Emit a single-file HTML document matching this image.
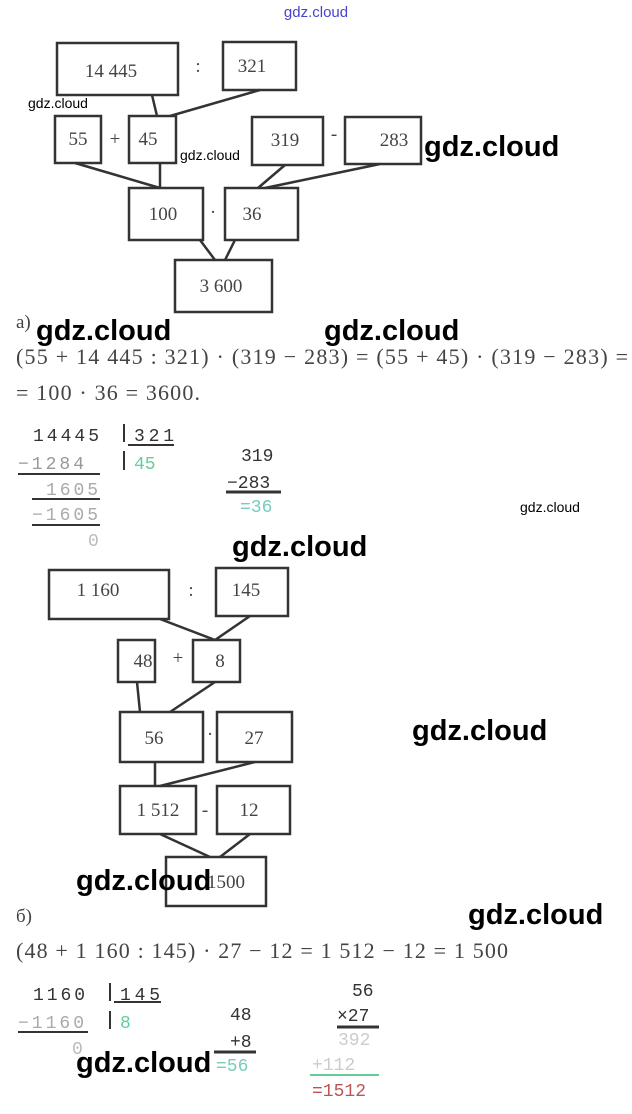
<!DOCTYPE html>
<html><head><meta charset="utf-8"><style>
body{margin:0;background:#fff;width:632px;height:1114px;overflow:hidden;position:relative}
svg{position:absolute;left:0;top:0}
.t{font-family:"Liberation Serif",serif;font-size:19px;fill:#444}
.e{font-family:"Liberation Serif",serif;font-size:22px;fill:#444}
.m{font-family:"Liberation Mono",monospace;font-size:18px}
.w{font-family:"Liberation Sans",sans-serif;font-weight:bold;font-size:29px;fill:#000}
.ws{font-family:"Liberation Sans",sans-serif;font-size:14px;fill:#000}
</style></head><body>
<svg width="632" height="1114" viewBox="0 0 632 1114">
<g stroke="#333" stroke-width="2.5" fill="none">
<rect x="57" y="43" width="121" height="52"/><rect x="223" y="42" width="73" height="48"/>
<rect x="55" y="116" width="46" height="47"/><rect x="129" y="116" width="47" height="47"/>
<rect x="252" y="117" width="71" height="48"/><rect x="345" y="117" width="76" height="47"/>
<rect x="129" y="188" width="74" height="52"/><rect x="225" y="188" width="73" height="52"/>
<rect x="175" y="260" width="97" height="52"/>
<path d="M152 95L157 116M260 90L170 116M75 163L160 188M160 163L160 188M285 165L258 188M380 164L265 188M200 240L215 260M235 240L225 260"/>
<rect x="49" y="570" width="120" height="49"/><rect x="216" y="568" width="72" height="48"/>
<rect x="118" y="640" width="37" height="42"/><rect x="193" y="640" width="47" height="42"/>
<rect x="120" y="712" width="83" height="50"/><rect x="217" y="712" width="75" height="50"/>
<rect x="120" y="786" width="76" height="48"/><rect x="217" y="786" width="73" height="48"/>
<rect x="166" y="857" width="100" height="49"/>
<path d="M160 619L215 640M250 616L215 640M137 682L140 712M215 682L170 712M155 762L155 786M255 762L160 786M160 834L210 857M250 834L220 857"/>
</g>
<g class="t" text-anchor="middle">
<text x="111" y="77">14 445</text><text x="198" y="72">:</text><text x="252" y="72">321</text>
<text x="78" y="145">55</text><text x="115" y="145">+</text><text x="148" y="145">45</text>
<text x="285" y="146">319</text><text x="334" y="140">-</text><text x="394" y="146">283</text>
<text x="163" y="220">100</text><text x="213" y="218">·</text><text x="252" y="220">36</text>
<text x="221" y="292">3 600</text>
<text x="98" y="596">1 160</text><text x="191" y="596">:</text><text x="246" y="596">145</text>
<text x="143" y="667">48</text><text x="178" y="664">+</text><text x="220" y="667">8</text>
<text x="154" y="744">56</text><text x="210" y="740">·</text><text x="254" y="744">27</text>
<text x="158" y="816">1 512</text><text x="205" y="816">-</text><text x="249" y="816">12</text>
<text x="226" y="888">1500</text>
</g>
<text class="t" x="16" y="328">а)</text>
<text class="e" x="16" y="364" textLength="612" lengthAdjust="spacing">(55 + 14 445 : 321) · (319 − 283) = (55 + 45) · (319 − 283) =</text>
<text class="e" x="16" y="400" textLength="184" lengthAdjust="spacing">= 100 · 36 = 3600.</text>
<text class="t" x="16" y="922">б)</text>
<text class="e" x="16" y="958" textLength="492" lengthAdjust="spacing">(48 + 1 160 : 145) · 27 − 12 = 1 512 − 12 = 1 500</text>
<g class="m">
<text x="33" y="441" fill="#333" textLength="66">14445</text><text x="134" y="441" fill="#333" textLength="40">321</text>
<text x="134" y="469" fill="#6c9">45</text>
<text x="18" y="469" fill="#999" textLength="66">−1284</text><text x="46" y="495" fill="#aaa" textLength="52">1605</text>
<text x="32" y="520" fill="#aaa" textLength="66">−1605</text><text x="88" y="546" fill="#bbb">0</text>
<text x="241" y="461" fill="#333">319</text><text x="227" y="488" fill="#333">−283</text>
<text x="240" y="512" fill="#7cb">=36</text>
<text x="33" y="1000" fill="#333" textLength="52">1160</text><text x="120" y="1000" fill="#333" textLength="40">145</text>
<text x="120" y="1028" fill="#6c9">8</text><text x="18" y="1028" fill="#aaa" textLength="66">−1160</text>
<text x="72" y="1054" fill="#bbb">0</text>
<text x="230" y="1020" fill="#333">48</text><text x="230" y="1047" fill="#333">+8</text>
<text x="216" y="1071" fill="#7cb">=56</text>
<text x="352" y="996" fill="#333">56</text><text x="337" y="1021" fill="#333">×27</text>
<text x="338" y="1045" fill="#ccc">392</text><text x="312" y="1070" fill="#ccc">+112</text>
<text x="312" y="1096" fill="#b55">=1512</text>
</g>
<g stroke="#333" stroke-width="2">
<path d="M124 424V442M124 451V470M128 445H174M18 474H100M32 499H100M32 525H100"/>
<path d="M110 983V1001M110 1011V1029M114 1002H161M18 1032H88"/>
</g>
<path d="M226 492H281M214 1052H256M337 1027H379" stroke="#333" stroke-width="3"/>
<path d="M310 1075H379" stroke="#6c9" stroke-width="2"/>
<text x="316" y="17" font-family="Liberation Sans,sans-serif" font-size="15" fill="#44c" text-anchor="middle">gdz.cloud</text>
<text class="ws" x="28" y="108">gdz.cloud</text>
<text class="ws" x="180" y="160">gdz.cloud</text>
<text class="ws" x="520" y="512">gdz.cloud</text>
<text class="w" x="424" y="156">gdz.cloud</text>
<text class="w" x="36" y="340">gdz.cloud</text>
<text class="w" x="324" y="340">gdz.cloud</text>
<text class="w" x="232" y="556">gdz.cloud</text>
<text class="w" x="412" y="740">gdz.cloud</text>
<text class="w" x="76" y="890">gdz.cloud</text>
<text class="w" x="468" y="924">gdz.cloud</text>
<text class="w" x="76" y="1072">gdz.cloud</text>
</svg>
</body></html>
